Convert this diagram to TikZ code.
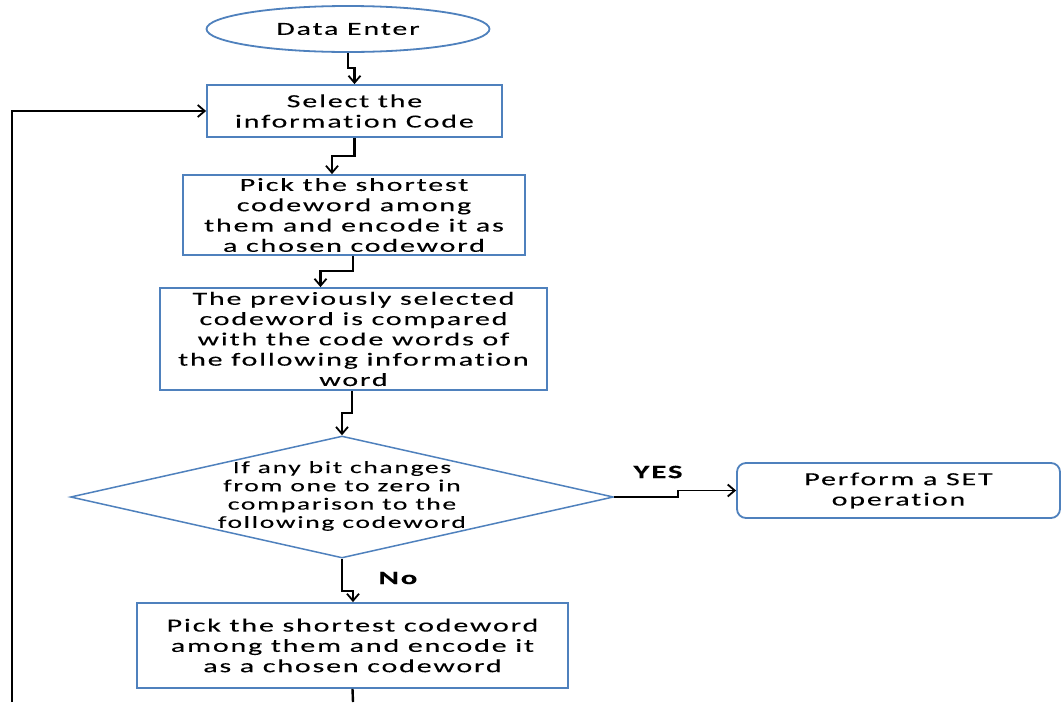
\documentclass[tikz,border=0pt]{standalone}
\usepackage{fontspec}
\setmainfont{Carlito}[FakeStretch=1.62,LetterSpace=10,FakeBold=0.12,Ligatures=NoCommon]
\usetikzlibrary{arrows.meta,shapes.geometric,calc}
\definecolor{boxblue}{HTML}{4F81BD}
\tikzset{
  box/.style={draw=boxblue,line width=1.8pt,rectangle,inner sep=0pt,align=center,
    font=\fontsize{18.5}{20.3}\selectfont},
  conn/.style={draw=black,line width=2.4pt,-{Straight Barb[length=7pt,width=12pt,line width=1.8pt]}},
  lbl/.style={font=\fontsize{19}{20}\selectfont\bfseries,inner sep=0pt},
}
\begin{document}
\begin{tikzpicture}[x=1pt,y=-1pt]
\useasboundingbox[fill=white] (0,0) rectangle (1062,702);
\node[box,ellipse,minimum width=283pt,minimum height=46pt] (start) at (348,29) {Data Enter};
\node[box,minimum width=295pt,minimum height=52pt] (sel) at (354.5,111) {Select the\\information Code};
\node[box,minimum width=342pt,minimum height=80pt] (pick1) at (354,215) {Pick the shortest\\codeword among\\them and encode it as\\a chosen codeword};
\node[box,minimum width=387pt,minimum height=102pt] (prev) at (353.5,339) {The previously selected\\codeword is compared\\with the code words of\\the following information\\word};
\node[draw=boxblue,line width=1.5pt,diamond,aspect=4.45,inner sep=0pt,minimum width=543pt,minimum height=122pt] (dec) at (342,497) {};
\node[align=center,font=\fontsize{17}{18.3}\selectfont] (dectext) at (342,496) {If any bit changes\\from one to zero in\\comparison to the\\following codeword};
\node[box,minimum width=431pt,minimum height=85pt] (pick2) at (352.5,645.5) {Pick the shortest codeword\\among them and encode it\\as a chosen codeword};
\node[box,rounded corners=9pt,minimum width=323pt,minimum height=55pt] (set) at (898.5,490.5) {Perform a SET\\operation};
\node[lbl] (yes) at (658,472) {YES};
\node[lbl] (no) at (398,578) {No};
\coordinate (loopstart) at (12,702);
\coordinate (bottomend) at (353,702);
\draw[conn] (start.south) -- ++(0,15) -| (sel.north);
\draw[conn] (sel.south) -- ++(0,18) -| ([xshift=-22pt]pick1.north);
\draw[conn] ([xshift=-1pt]pick1.south) -- ++(0,15) -| ([xshift=-33pt]prev.north);
\draw[conn] ([xshift=-1.5pt]prev.south) -- ++(0,22) -| (dec.north);
\draw[conn] (dec.south) -- ++(0,32) -| ([xshift=0.5pt]pick2.north);
\draw[conn,line width=1.6pt] (dec.east) -- ++(64,0) |- (set.west);
\draw[line width=2.4pt] (pick2.south) -- (bottomend);
\draw[conn] (loopstart) |- (sel.west);
\end{tikzpicture}
\end{document}
